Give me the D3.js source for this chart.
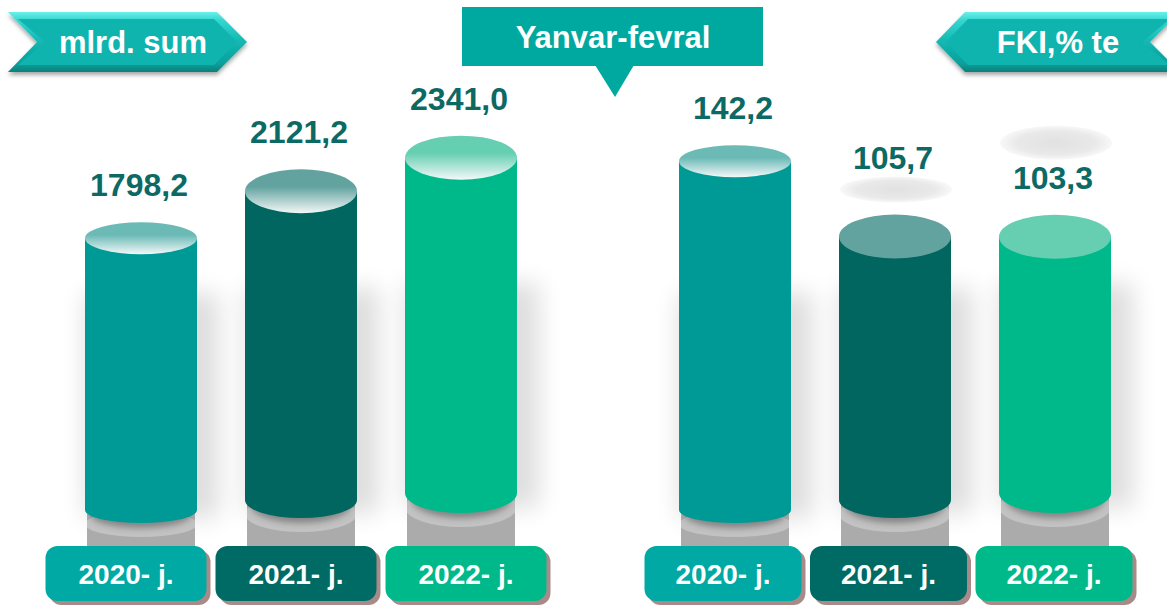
<!DOCTYPE html>
<html>
<head>
<meta charset="utf-8">
<script src="https://cdn.jsdelivr.net/npm/d3@7"></script>
<style>
  html, body { margin: 0; padding: 0; background: #fff; }
  svg { display: block; font-family: 'Liberation Sans', Arial, sans-serif; }
</style>
</head>
<body>
<svg id="chart"></svg>
<script>
var years = ['2020', '2021', '2022'];
var yearLabels = ['2020- j.', '2021- j.', '2022- j.'];
var sumValues = [1798.2, 2121.2, 2341.0];
var fkiValues = [142.2, 105.7, 103.3];
var unitLeft = 'mlrd. sum';
var unitRight = 'FKI,% te';
var periodTitle = 'Yanvar-fevral';

var width = 1167, height = 605;
var bodyColors = ['#009a96', '#00665f', '#00b98a'];
var boxColors = ['#00a9a3', '#006a65', '#00b98a'];
var capColors = ['#6bbab6', '#62a3a0', '#66cfb2'];
var labelColor = '#0d6964';
var boxTop = 546, boxH = 55;

var locale = d3.formatLocale({decimal: ',', thousands: ' ', grouping: [3], currency: ['', '']});
var fmt = locale.format('.1f');

var svg = d3.select('#chart').attr('width', width).attr('height', height);
var defs = svg.append('defs');

function blurFilter(id, std) {
  defs.append('filter').attr('id', id)
    .attr('x', '-60%').attr('y', '-60%').attr('width', '220%').attr('height', '220%')
    .append('feGaussianBlur').attr('stdDeviation', std);
}
blurFilter('soft', 12);
blurFilter('tight', 3);

defs.append('filter').attr('id', 'tag-shadow')
  .attr('x', '-10%').attr('y', '-20%').attr('width', '120%').attr('height', '160%')
  .append('feDropShadow')
  .attr('dx', 0).attr('dy', 3).attr('stdDeviation', 2)
  .attr('flood-color', '#000').attr('flood-opacity', 0.35);

// glossy caps: colour on top fading to white
capColors.forEach(function(c, i) {
  var g = defs.append('linearGradient').attr('id', 'cap' + i)
    .attr('x1', 0).attr('y1', 0).attr('x2', 0).attr('y2', 1);
  g.append('stop').attr('offset', '0%').attr('stop-color', c);
  g.append('stop').attr('offset', '40%').attr('stop-color', c);
  g.append('stop').attr('offset', '100%').attr('stop-color', '#f3f8f8');
});

var ghostGrad = defs.append('radialGradient').attr('id', 'ghost');
ghostGrad.append('stop').attr('offset', '0%').attr('stop-color', '#e1e1e1');
ghostGrad.append('stop').attr('offset', '70%').attr('stop-color', '#e9e9e9');
ghostGrad.append('stop').attr('offset', '100%').attr('stop-color', '#f8f8f8');

var bevel = defs.append('linearGradient').attr('id', 'bevel')
  .attr('x1', 0).attr('y1', 0).attr('x2', 0).attr('y2', 1);
[['0%', '#6af0ea'], ['14%', '#35d6d0'], ['50%', '#13b6b1'], ['86%', '#0c9f9a'], ['100%', '#087f7b']]
  .forEach(function(s) { bevel.append('stop').attr('offset', s[0]).attr('stop-color', s[1]); });

var groups = [
  {
    values: sumValues,
    x: d3.scalePoint().domain(years).range([141, 461]),
    box: d3.scalePoint().domain(years).range([126, 466]),
    boxW: 161,
    h: d3.scaleLinear().domain([1500, 2400]).range([246, 363]),
    gloss: [true, true, true],
    ghosts: [null, null, null]
  },
  {
    values: fkiValues,
    x: d3.scalePoint().domain(years).range([735, 1055]),
    box: d3.scalePoint().domain(years).range([723, 1054]),
    boxW: 157,
    h: d3.scaleLinear().domain([100, 145]).range([269, 368]),
    gloss: [true, false, false],
    ghosts: [null, -47, -94]
  }
];

var rx = 56;
var topRy = [16, 22, 22];
var botRy = [13, 18, 20];

groups.forEach(function(grp, gi) {
  var g = svg.append('g').attr('class', 'group-' + gi);

  years.forEach(function(year, i) {
    var v = grp.values[i];
    var cx = grp.x(year);
    var bottomEdge = 523 - 5 * i;
    var botCy = bottomEdge - botRy[i];
    var topCy = bottomEdge - grp.h(v);
    var bar = g.append('g');

    // soft shadow round the lower body
    bar.append('rect')
      .attr('x', cx - rx).attr('y', bottomEdge - 230)
      .attr('width', 2 * rx + 22).attr('height', 225)
      .attr('fill', '#000').attr('opacity', 0.13)
      .attr('filter', 'url(#soft)');

    // grey reflection under the cylinder
    var clipId = 'refl-' + gi + '-' + i;
    defs.append('clipPath').attr('id', clipId)
      .append('rect')
      .attr('x', cx - rx + 2).attr('y', botCy)
      .attr('width', 2 * rx - 4).attr('height', boxTop - botCy);
    var refl = bar.append('g').attr('clip-path', 'url(#' + clipId + ')');
    refl.append('rect')
      .attr('x', cx - rx).attr('y', botCy)
      .attr('width', 2 * rx).attr('height', boxTop - botCy)
      .attr('fill', '#ababab');
    refl.append('ellipse')
      .attr('cx', cx).attr('cy', botCy + 14)
      .attr('rx', rx).attr('ry', botRy[i])
      .attr('fill', '#c2c2c2');
    refl.append('ellipse')
      .attr('cx', cx).attr('cy', botCy + 5)
      .attr('rx', rx - 6).attr('ry', botRy[i])
      .attr('fill', '#3a3a3a').attr('opacity', 0.45)
      .attr('filter', 'url(#tight)');

    // body
    bar.append('path')
      .attr('d', 'M' + (cx - rx) + ',' + topCy +
        'L' + (cx - rx) + ',' + botCy +
        'A' + rx + ',' + botRy[i] + ' 0 0 0 ' + (cx + rx) + ',' + botCy +
        'L' + (cx + rx) + ',' + topCy + 'Z')
      .attr('fill', bodyColors[i]);

    // cap
    bar.append('ellipse')
      .attr('cx', cx).attr('cy', topCy)
      .attr('rx', rx).attr('ry', topRy[i])
      .attr('fill', grp.gloss[i] ? 'url(#cap' + i + ')' : capColors[i]);

    var labelY = topCy - topRy[i] - 26;
    if (grp.ghosts[i] !== null) {
      var gRy = i === 1 ? 13 : 17;
      var gCy = topCy + grp.ghosts[i];
      bar.append('ellipse')
        .attr('cx', cx + 1).attr('cy', gCy)
        .attr('rx', 56).attr('ry', gRy)
        .attr('fill', 'url(#ghost)');
      // keep the value above a ghost cap that would sit on it
      if (gCy > labelY - 25) labelY = gCy - gRy - 7;
    }

    g.append('text')
      .attr('x', cx - 2).attr('y', labelY)
      .attr('text-anchor', 'middle')
      .attr('font-size', 32).attr('font-weight', 'bold')
      .attr('fill', labelColor)
      .text(fmt(v));

    // year box
    var bx = grp.box(year) - grp.boxW / 2;
    g.append('rect')
      .attr('x', bx + 4).attr('y', boxTop + 4)
      .attr('width', grp.boxW).attr('height', boxH)
      .attr('rx', 12).attr('fill', '#a88b89');
    g.append('rect')
      .attr('x', bx).attr('y', boxTop)
      .attr('width', grp.boxW).attr('height', boxH)
      .attr('rx', 12).attr('fill', boxColors[i]);
    g.append('text')
      .attr('x', grp.box(year)).attr('y', boxTop + boxH / 2)
      .attr('dy', '0.36em')
      .attr('text-anchor', 'middle')
      .attr('font-size', 28).attr('font-weight', 'bold')
      .attr('fill', '#fff')
      .text(yearLabels[i]);
  });
});

// arrow tags for units
function tag(outer, inner, label, tx) {
  var t = svg.append('g');
  t.append('polygon')
    .attr('points', outer.join(' '))
    .attr('fill', 'url(#bevel)')
    .attr('filter', 'url(#tag-shadow)');
  t.append('polygon')
    .attr('points', inner.join(' '))
    .attr('fill', '#10b4af');
  t.append('text')
    .attr('x', tx).attr('y', 42).attr('dy', '0.35em')
    .attr('text-anchor', 'middle')
    .attr('font-size', 31).attr('font-weight', 'bold')
    .attr('fill', '#fff')
    .text(label);
}
tag([[8, 12], [217, 12], [247, 42], [217, 72], [8, 72], [37, 42]],
    [[18, 19], [214, 19], [237, 42], [214, 65], [18, 65], [45, 42]],
    unitLeft, 133);
tag([[936, 42], [965, 12], [1180, 12], [1150, 42], [1180, 72], [965, 72]],
    [[946, 42], [968, 19], [1170, 19], [1142, 42], [1170, 65], [968, 65]],
    unitRight, 1058);

// period callout
var callout = svg.append('g');
callout.append('rect')
  .attr('x', 462).attr('y', 7).attr('width', 301).attr('height', 59)
  .attr('fill', '#00a99f');
callout.append('path')
  .attr('d', 'M595,65L634,65L615,97Z')
  .attr('fill', '#00a99f');
callout.append('text')
  .attr('x', 613).attr('y', 37).attr('dy', '0.35em')
  .attr('text-anchor', 'middle')
  .attr('font-size', 31).attr('font-weight', 'bold')
  .attr('fill', '#fff')
  .text(periodTitle);
</script>
</body>
</html>
